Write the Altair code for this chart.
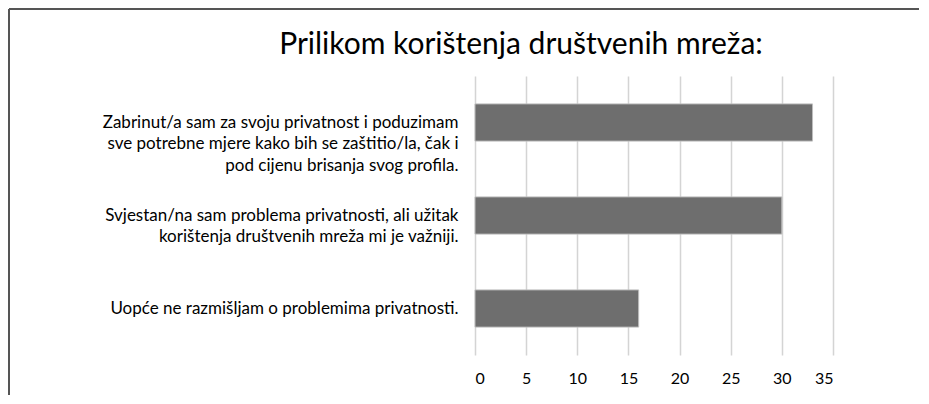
import altair as alt
import pandas as pd

title_text = "Prilikom korištenja društvenih mreža:"
categories = [
    "Zabrinut/a sam za svoju privatnost i poduzimam|sve potrebne mjere kako bih se zaštitio/la, čak i|pod cijenu brisanja svog profila.",
    "Svjestan/na sam problema privatnosti, ali užitak|korištenja društvenih mreža mi je važniji.",
    "Uopće ne razmišljam o problemima privatnosti.",
]
values = [33, 30, 16]
x_ticks = [0, 5, 10, 15, 20, 25, 30, 35]

df = pd.DataFrame({"cat": categories, "val": values})

W, H = 358, 279
PL, PT, PR, PB = 467, 68, 86, 40
FONT = "Lato"

bars = alt.Chart(df).mark_bar(
    color="#6e6e6e", stroke="#bdbdbd", strokeWidth=1
).encode(
    x=alt.X("val:Q", scale=alt.Scale(domain=[0, 35], nice=False),
            axis=alt.Axis(values=x_ticks, title=None, domain=False, ticks=False,
                          grid=True, gridColor="#d4d4d4", gridWidth=1.5,
                          labelPadding=15, labelFontSize=16, labelFont=FONT,
                          labelColor="#000000")),
    y=alt.Y("cat:N", sort=categories,
            scale=alt.Scale(paddingInner=0.6, paddingOuter=0.3),
            axis=alt.Axis(title=None, domain=False, ticks=False, grid=False,
                          labelExpr="split(datum.value, '|')",
                          labelAlign="right", labelLimit=600, labelPadding=17,
                          labelFontSize=17, labelFont=FONT, labelLineHeight=21.5,
                          labelColor="#000000")),
)

one = pd.DataFrame({"t": [title_text]})
title_mark = alt.Chart(one).mark_text(
    font=FONT, fontSize=30, color="#000000", align="center", baseline="middle"
).encode(text="t:N", x=alt.value(521 - 8 - PL), y=alt.value(45 - 8 - PT))

top_border = alt.Chart(one).mark_rule(color="#555555", strokeWidth=2).encode(
    x=alt.value(-PL + 1), x2=alt.value(W + PR), y=alt.value(-PT + 1)
)
left_border = alt.Chart(one).mark_rule(color="#555555", strokeWidth=2).encode(
    x=alt.value(-PL + 1), y=alt.value(-PT + 1), y2=alt.value(H + PB)
)

chart = alt.layer(bars, title_mark, top_border, left_border).properties(
    width=W, height=H,
    autosize=alt.AutoSizeParams(type="none"),
    padding={"left": PL, "top": PT, "right": PR, "bottom": PB},
    background="white",
).configure_view(stroke=None)

chart.save("out.html", embed_options={"renderer": "svg", "actions": False})
